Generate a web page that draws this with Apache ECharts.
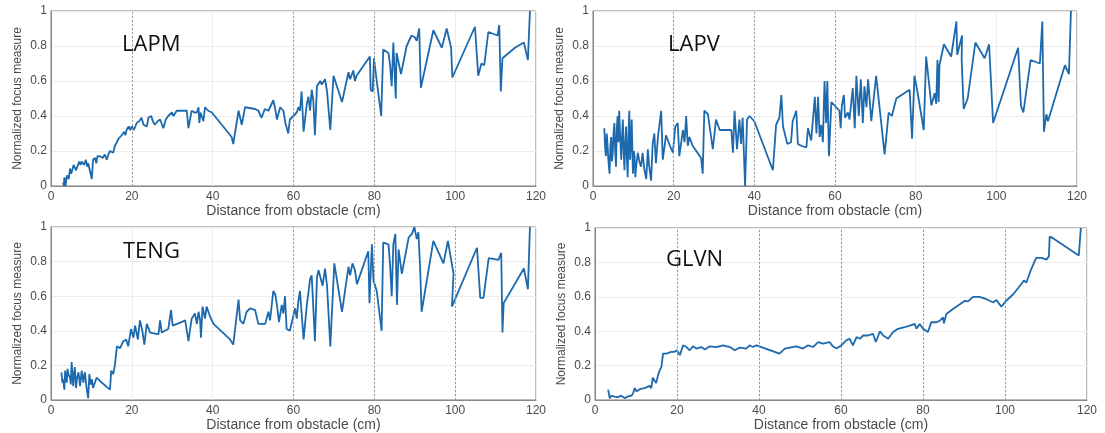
<!DOCTYPE html>
<html>
<head>
<meta charset="utf-8">
<script src="https://cdn.jsdelivr.net/npm/echarts@6/dist/echarts.min.js"></script>
<style>
html,body{margin:0;padding:0;background:#fff;}
#chart{width:1105px;height:433px;}
</style>
</head>
<body>
<div id="chart"></div>
<script>
// ---- data (distance cm, normalized focus measure) ----
const panelTitles = ['LAPM', 'LAPV', 'TENG', 'GLVN'];
const xAxisName = 'Distance from obstacle (cm)';
const yAxisName = 'Normalized focus measure';
const xTicks = [0, 20, 40, 60, 80, 100, 120];
const yTicks = [0, 0.2, 0.4, 0.6, 0.8, 1];

const lapmData = [[3.0,0.02],[3.2,0.0],[3.3,0.05],[3.6,0.0],[3.8,0.04],[4.0,0.06],[4.4,0.04],[4.7,0.10],[5.0,0.07],[5.2,0.08],[5.6,0.12],[5.9,0.12],[6.2,0.09],[6.5,0.11],[7.0,0.14],[7.3,0.12],[7.6,0.14],[8.2,0.12],[8.6,0.15],[9.0,0.11],[9.2,0.13],[9.6,0.09],[10.1,0.04],[10.4,0.15],[10.9,0.16],[11.2,0.13],[11.5,0.17],[12.1,0.17],[12.8,0.16],[13.3,0.18],[13.8,0.15],[14.2,0.18],[14.6,0.20],[15.0,0.21],[15.4,0.19],[15.8,0.23],[16.3,0.25],[16.7,0.27],[17.1,0.26],[17.5,0.29],[18.1,0.31],[18.4,0.29],[18.7,0.32],[19.2,0.34],[19.6,0.32],[20.0,0.34],[20.5,0.32],[21.2,0.36],[21.8,0.37],[22.4,0.39],[22.9,0.35],[23.3,0.36],[23.7,0.34],[24.1,0.39],[24.8,0.40],[25.2,0.37],[25.7,0.35],[26.4,0.37],[27.0,0.38],[27.8,0.33],[28.4,0.38],[29.0,0.40],[29.9,0.42],[30.3,0.40],[30.7,0.40],[31.1,0.43],[33.6,0.43],[34.0,0.33],[34.8,0.43],[35.5,0.42],[36.1,0.42],[36.5,0.45],[36.7,0.36],[37.0,0.42],[37.3,0.43],[37.7,0.37],[38.1,0.45],[38.9,0.43],[39.8,0.42],[44.7,0.28],[45.1,0.24],[46.4,0.43],[46.8,0.43],[47.2,0.35],[48.0,0.45],[48.4,0.46],[50.5,0.44],[51.3,0.43],[52.1,0.39],[52.9,0.44],[53.8,0.43],[55.0,0.49],[55.4,0.45],[55.9,0.38],[56.3,0.39],[56.7,0.45],[57.5,0.43],[58.0,0.36],[58.7,0.30],[59.1,0.38],[60.8,0.42],[61.2,0.45],[61.6,0.43],[62.0,0.54],[62.5,0.31],[63.3,0.47],[63.7,0.51],[64.1,0.43],[64.5,0.55],[64.9,0.49],[65.3,0.29],[65.8,0.57],[66.6,0.60],[67.0,0.58],[67.8,0.61],[68.3,0.54],[69.1,0.32],[69.9,0.63],[70.3,0.62],[72.0,0.48],[73.6,0.65],[74.0,0.61],[74.8,0.66],[75.2,0.60],[75.6,0.63],[78.9,0.74],[79.1,0.55],[79.6,0.54],[79.9,0.73],[80.6,0.60],[81.7,0.40],[82.2,0.78],[83.5,0.76],[83.9,0.69],[84.3,0.57],[84.7,0.82],[85.3,0.50],[85.5,0.76],[86.6,0.64],[88.0,0.80],[89.2,0.86],[90.0,0.85],[90.5,0.83],[91.1,0.90],[91.5,0.56],[94.6,0.89],[96.7,0.79],[97.9,0.90],[99.0,0.79],[99.3,0.62],[104.9,0.91],[105.7,0.63],[106.5,0.70],[107.2,0.69],[108.2,0.88],[110.5,0.86],[110.9,0.92],[111.3,0.54],[111.7,0.73],[114.8,0.79],[117.0,0.82],[118.0,0.72],[118.5,1.0]];

const lapvData = [[2.8,0.33],[3.0,0.22],[3.2,0.17],[3.4,0.30],[3.6,0.24],[3.8,0.15],[4.1,0.07],[4.3,0.22],[4.5,0.28],[4.7,0.14],[4.9,0.19],[5.1,0.31],[5.3,0.36],[5.5,0.20],[5.7,0.11],[5.9,0.33],[6.1,0.40],[6.3,0.25],[6.5,0.43],[6.7,0.30],[7.0,0.15],[7.2,0.28],[7.4,0.38],[7.6,0.20],[7.8,0.09],[8.0,0.25],[8.2,0.34],[8.4,0.16],[8.6,0.05],[8.8,0.30],[9.0,0.43],[9.2,0.15],[9.4,0.24],[9.6,0.38],[9.9,0.07],[10.1,0.20],[10.3,0.17],[10.5,0.05],[10.7,0.11],[11.1,0.19],[11.5,0.14],[11.9,0.11],[12.3,0.19],[12.7,0.10],[13.2,0.04],[13.6,0.21],[13.9,0.12],[14.4,0.03],[14.8,0.24],[15.2,0.30],[15.6,0.13],[16.1,0.28],[16.9,0.43],[17.3,0.15],[18.1,0.29],[18.9,0.24],[19.8,0.19],[20.4,0.34],[21.0,0.36],[21.4,0.17],[22.3,0.32],[22.7,0.25],[23.1,0.40],[23.5,0.23],[23.9,0.28],[24.7,0.23],[26.8,0.16],[27.2,0.07],[27.6,0.43],[28.5,0.41],[29.7,0.21],[30.5,0.38],[31.4,0.32],[34.3,0.32],[34.7,0.19],[35.1,0.43],[35.7,0.21],[36.3,0.38],[36.7,0.24],[37.1,0.39],[37.7,0.0],[38.2,0.38],[38.8,0.40],[40.0,0.37],[44.6,0.09],[45.4,0.35],[46.2,0.39],[46.7,0.52],[47.1,0.34],[47.5,0.33],[48.2,0.24],[49.1,0.25],[49.5,0.37],[49.9,0.36],[50.4,0.43],[50.8,0.24],[51.6,0.23],[52.9,0.22],[53.3,0.33],[54.1,0.26],[55.0,0.51],[55.4,0.30],[55.8,0.51],[56.2,0.28],[56.6,0.35],[57.0,0.25],[57.4,0.60],[57.8,0.36],[58.1,0.60],[58.5,0.17],[59.1,0.48],[60.3,0.45],[61.1,0.43],[61.4,0.33],[61.7,0.46],[62.2,0.52],[62.5,0.39],[63.2,0.42],[63.6,0.38],[64.4,0.56],[64.9,0.33],[65.3,0.63],[65.9,0.40],[66.4,0.61],[66.9,0.36],[67.3,0.57],[67.8,0.45],[68.2,0.61],[69.0,0.37],[70.2,0.63],[72.3,0.18],[73.3,0.42],[73.5,0.43],[74.1,0.40],[75.2,0.50],[78.5,0.55],[79.1,0.27],[79.7,0.63],[80.5,0.53],[82.0,0.32],[82.6,0.74],[83.9,0.46],[84.3,0.46],[84.7,0.53],[85.1,0.47],[85.4,0.72],[85.7,0.48],[85.9,0.69],[87.0,0.81],[88.8,0.74],[90.1,0.94],[90.3,0.75],[91.5,0.86],[91.4,0.72],[91.9,0.44],[92.9,0.50],[94.8,0.82],[97.1,0.73],[98.2,0.81],[99.2,0.36],[105.4,0.79],[106.1,0.46],[106.7,0.42],[108.5,0.72],[110.8,0.70],[111.4,0.94],[111.8,0.31],[112.4,0.41],[112.8,0.37],[117.0,0.69],[118.0,0.64],[118.5,1.0]];

const tengData = [[2.6,0.16],[2.8,0.10],[3.0,0.12],[3.3,0.06],[3.5,0.17],[3.9,0.10],[4.1,0.18],[4.3,0.15],[4.7,0.13],[4.9,0.09],[5.1,0.22],[5.5,0.08],[5.7,0.15],[5.9,0.19],[6.2,0.07],[6.4,0.12],[6.8,0.16],[7.0,0.12],[7.2,0.08],[7.6,0.17],[8.0,0.10],[8.2,0.14],[8.4,0.16],[8.8,0.07],[9.2,0.01],[9.5,0.15],[9.8,0.09],[10.1,0.12],[10.4,0.07],[10.7,0.08],[11.3,0.13],[12.1,0.11],[14.6,0.06],[14.9,0.17],[15.4,0.15],[15.8,0.20],[16.3,0.31],[17.1,0.30],[17.9,0.34],[18.6,0.35],[19.1,0.31],[19.8,0.41],[20.4,0.36],[20.8,0.43],[21.5,0.35],[22.0,0.46],[22.6,0.40],[23.1,0.32],[23.7,0.44],[24.5,0.39],[26.6,0.38],[27.0,0.46],[27.4,0.39],[29.0,0.41],[29.7,0.52],[30.1,0.43],[32.3,0.45],[33.2,0.46],[34.0,0.34],[34.8,0.47],[35.6,0.50],[36.1,0.44],[36.5,0.51],[36.9,0.46],[37.1,0.36],[37.5,0.54],[38.1,0.47],[38.5,0.54],[39.4,0.48],[40.2,0.44],[44.3,0.35],[45.1,0.32],[46.4,0.58],[46.8,0.46],[47.6,0.44],[48.4,0.51],[49.3,0.53],[50.5,0.52],[51.3,0.44],[53.0,0.44],[53.8,0.51],[54.2,0.46],[55.0,0.63],[55.5,0.61],[55.9,0.55],[56.4,0.45],[57.1,0.55],[57.5,0.50],[57.9,0.60],[58.3,0.41],[59.1,0.40],[60.4,0.53],[60.8,0.47],[61.2,0.57],[61.6,0.63],[62.5,0.35],[63.3,0.55],[63.7,0.62],[64.1,0.70],[64.5,0.72],[64.7,0.63],[65.3,0.34],[65.8,0.71],[66.2,0.75],[66.6,0.76],[67.2,0.66],[67.8,0.76],[68.3,0.66],[69.1,0.31],[70.1,0.79],[72.0,0.51],[73.6,0.77],[74.0,0.72],[74.6,0.79],[75.2,0.75],[75.7,0.67],[78.5,0.86],[78.8,0.56],[79.4,0.90],[79.8,0.69],[80.6,0.63],[81.8,0.40],[82.2,0.91],[83.5,0.90],[83.9,0.78],[84.3,0.60],[84.7,0.90],[85.2,0.96],[85.6,0.55],[86.0,0.87],[86.8,0.73],[88.5,0.94],[89.3,0.96],[89.9,1.0],[90.5,0.93],[90.9,0.97],[91.3,0.78],[91.7,0.51],[94.6,0.92],[97.1,0.79],[98.2,0.92],[99.6,0.73],[99.2,0.54],[105.4,0.88],[106.2,0.59],[107.0,0.59],[108.3,0.82],[110.7,0.81],[111.4,0.85],[111.7,0.39],[112.0,0.56],[117.0,0.76],[118.0,0.64],[118.5,1.0]];

const glvnData = [[3.2,0.06],[3.6,0.01],[4.0,0.025],[4.8,0.02],[5.6,0.017],[6.4,0.025],[7.2,0.011],[8.1,0.021],[8.9,0.025],[9.3,0.04],[9.7,0.07],[10.1,0.05],[10.9,0.063],[12.1,0.069],[13.3,0.082],[13.7,0.069],[14.1,0.13],[14.9,0.098],[15.4,0.146],[15.8,0.174],[16.2,0.193],[16.6,0.27],[17.4,0.27],[18.6,0.28],[19.4,0.28],[20.0,0.289],[20.7,0.261],[21.5,0.318],[22.3,0.308],[23.1,0.289],[23.9,0.312],[24.7,0.299],[25.9,0.308],[26.8,0.293],[28.0,0.312],[29.6,0.308],[31.2,0.318],[32.9,0.308],[34.1,0.289],[35.3,0.305],[36.9,0.299],[37.7,0.318],[38.5,0.308],[39.4,0.318],[45.0,0.27],[46.3,0.299],[47.5,0.305],[49.1,0.312],[50.7,0.299],[52.0,0.318],[53.2,0.308],[54.4,0.337],[55.6,0.328],[57.2,0.337],[58.0,0.312],[58.9,0.299],[60.1,0.318],[61.3,0.347],[62.1,0.356],[62.9,0.318],[63.8,0.366],[64.6,0.356],[65.4,0.375],[66.6,0.375],[67.8,0.385],[68.5,0.337],[69.5,0.40],[70.3,0.375],[71.5,0.356],[72.7,0.395],[73.9,0.414],[75.5,0.423],[76.8,0.433],[78.0,0.442],[78.4,0.414],[79.2,0.442],[80.0,0.414],[81.2,0.395],[82.0,0.452],[83.3,0.452],[84.1,0.461],[84.9,0.481],[85.1,0.446],[85.7,0.50],[87.3,0.529],[89.0,0.557],[90.2,0.577],[91.0,0.573],[92.2,0.60],[93.8,0.60],[95.5,0.586],[97.1,0.567],[97.9,0.581],[99.1,0.543],[100.3,0.577],[102.0,0.615],[103.6,0.663],[104.6,0.695],[105.2,0.682],[106.2,0.749],[107.6,0.826],[108.9,0.826],[110.1,0.816],[110.7,0.835],[110.9,0.95],[111.7,0.941],[118.0,0.84],[118.5,1.0]];

// dotted vertical grid lines (x values) in each panel
const dottedLines = [[20, 60, 80], [20, 40, 60], [60, 80, 100], [20, 40, 60, 80, 100]];
const seriesData = [lapmData, lapvData, tengData, glvnData];

// ---- layout ----
const grids = [
  {left: 51, top: 11, width: 485, height: 175},
  {left: 593, top: 11, width: 484, height: 175},
  {left: 51, top: 227, width: 485, height: 175},
  {left: 595, top: 228, width: 492, height: 174}
];
const titlePos = [[122, 34], [668, 34], [123, 241], [666, 249]];

const lineColor = '#1c69ad';
const txtColor = '#4a4a4a';

const option = {
  animation: false,
  backgroundColor: '#fff',
  title: panelTitles.map((t, i) => ({
    text: t, left: titlePos[i][0], top: titlePos[i][1], padding: 0,
    textStyle: {fontFamily: 'Open Sans', fontSize: 22, fontWeight: 'normal', color: '#111'}
  })),
  grid: grids.map(g => Object.assign({show: true, borderColor: '#7a7a7a', borderWidth: 1, backgroundColor: 'transparent'}, g)),
  xAxis: grids.map((g, i) => ({
    type: 'value', gridIndex: i, min: xTicks[0], max: xTicks[xTicks.length - 1], interval: xTicks[1] - xTicks[0],
    name: xAxisName, nameLocation: 'middle', nameGap: 18,
    nameTextStyle: {fontFamily: 'Liberation Sans', fontSize: 14, color: txtColor},
    axisLine: {show: true, lineStyle: {color: '#8a8a8a', width: 1}},
    axisTick: {show: false},
    axisLabel: {fontFamily: 'Liberation Sans', fontSize: 12, color: txtColor, margin: 5},
    splitLine: {show: true, lineStyle: {color: '#ececec', width: 1}}
  })),
  yAxis: grids.map((g, i) => ({
    type: 'value', gridIndex: i, min: yTicks[0], max: yTicks[yTicks.length - 1], interval: yTicks[1] - yTicks[0],
    name: yAxisName, nameLocation: 'middle', nameGap: 27,
    nameTextStyle: {fontFamily: 'Liberation Sans', fontSize: 12, color: txtColor},
    axisLine: {show: true, lineStyle: {color: '#8a8a8a', width: 1}},
    axisTick: {show: false},
    axisLabel: {fontFamily: 'Liberation Sans', fontSize: 12, color: txtColor, margin: 4},
    splitLine: {show: true, lineStyle: {color: '#ececec', width: 1}}
  })),
  series: seriesData.map((d, i) => ({
    type: 'line', xAxisIndex: i, yAxisIndex: i, data: d,
    showSymbol: false, symbol: 'none', clip: false,
    lineStyle: {color: lineColor, width: 1.8},
    markLine: {
      silent: true, symbol: ['none', 'none'], label: {show: false},
      lineStyle: {color: '#9a9a9a', type: [2, 2], width: 1},
      data: dottedLines[i].map(v => ({xAxis: v}))
    },
    z: 3
  }))
};

const chart = echarts.init(document.getElementById('chart'), null, {renderer: 'canvas'});
chart.setOption(option);
</script>
</body>
</html>
